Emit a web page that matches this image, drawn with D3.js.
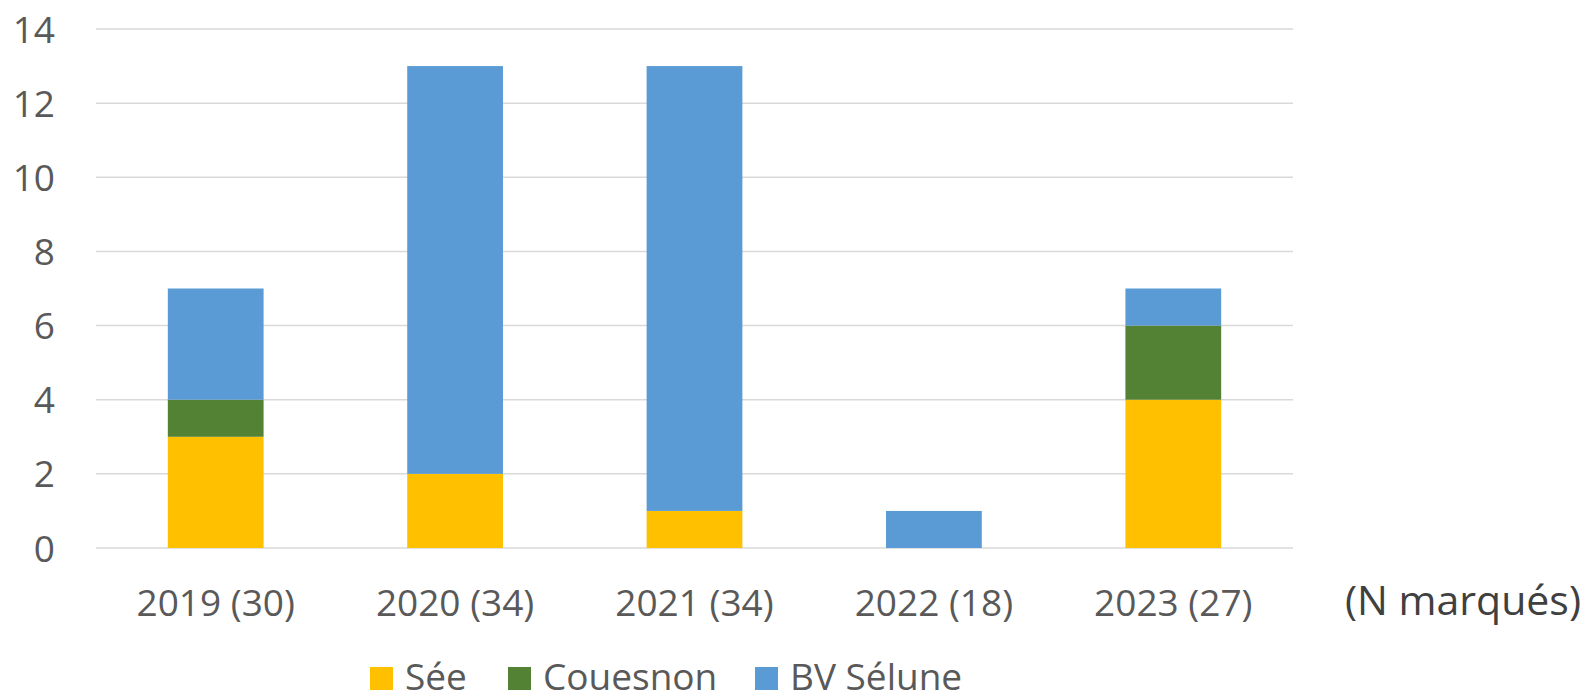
<!DOCTYPE html>
<html>
<head>
<meta charset="utf-8">
<script src="https://cdn.jsdelivr.net/npm/d3@7"></script>
<style>
  html, body { margin: 0; padding: 0; background: #fff; }
  svg { display: block; }
  text { font-family: "Open Sans", "Liberation Sans", sans-serif; }
</style>
</head>
<body>
<script>
// Categories (year and number of tagged fish)
const categories = ["2019 (30)", "2020 (34)", "2021 (34)", "2022 (18)", "2023 (27)"];
// Stacked series, bottom to top
const seriesNames = ["Sée", "Couesnon", "BV Sélune"];
const seeValues = [3, 2, 1, 0, 4];
const couesnonValues = [1, 0, 0, 0, 2];
const seluneValues = [3, 11, 12, 1, 1];
const yTicks = [0, 2, 4, 6, 8, 10, 12, 14];
const colors = ["#FFC000", "#548235", "#5B9BD5"];

const width = 1587, height = 694;
const plot = { left: 96, right: 1293, top: 29, bottom: 548 };

const rows = categories.map((c, i) => ({
  cat: c,
  "Sée": seeValues[i],
  "Couesnon": couesnonValues[i],
  "BV Sélune": seluneValues[i]
}));

const svg = d3.select("body").append("svg")
  .attr("width", width).attr("height", height);

const x = d3.scaleBand().domain(categories)
  .range([plot.left, plot.right]).paddingInner(0).paddingOuter(0);
const y = d3.scaleLinear().domain([0, 14]).range([plot.bottom, plot.top]);

// Horizontal gridlines
svg.append("g").selectAll("line").data(yTicks).join("line")
  .attr("x1", plot.left).attr("x2", plot.right)
  .attr("y1", d => y(d)).attr("y2", d => y(d))
  .attr("stroke", "#D9D9D9").attr("stroke-width", 1.5);

// Y-axis tick labels
svg.append("g").selectAll("text").data(yTicks).join("text")
  .attr("x", 55).attr("y", d => y(d) + 13.5)
  .attr("text-anchor", "end")
  .attr("font-size", 37).attr("fill", "#595959")
  .text(d => d);

// Stacked bars
const stack = d3.stack().keys(seriesNames)(rows);
const barW = x.step() * 0.4;
svg.append("g").selectAll("g").data(stack).join("g")
  .attr("fill", (d, i) => colors[i])
  .selectAll("rect").data(d => d.filter(s => s[1] - s[0] > 0)).join("rect")
  .attr("x", d => x(d.data.cat) + x.step() / 2 - barW / 2)
  .attr("width", barW)
  .attr("y", d => y(d[1]))
  .attr("height", d => y(d[0]) - y(d[1]));

// X-axis category labels
svg.append("g").selectAll("text").data(categories).join("text")
  .attr("x", d => x(d) + x.step() / 2).attr("y", 616)
  .attr("text-anchor", "middle")
  .attr("font-size", 37).attr("fill", "#595959")
  .text(d => d);

// Axis unit note
svg.append("text")
  .attr("x", 1345).attr("y", 615)
  .attr("font-size", 41).attr("fill", "#404040")
  .text("(N marqués)");

// Legend
const legendX = [370, 508, 755];
const legend = svg.append("g").selectAll("g").data(seriesNames).join("g")
  .attr("transform", (d, i) => `translate(${legendX[i]},667)`);
legend.append("rect")
  .attr("width", 23).attr("height", 23)
  .attr("fill", (d, i) => colors[i]);
legend.append("text")
  .attr("x", 35).attr("y", 23)
  .attr("font-size", 37).attr("fill", "#595959")
  .text(d => d);
</script>
</body>
</html>
